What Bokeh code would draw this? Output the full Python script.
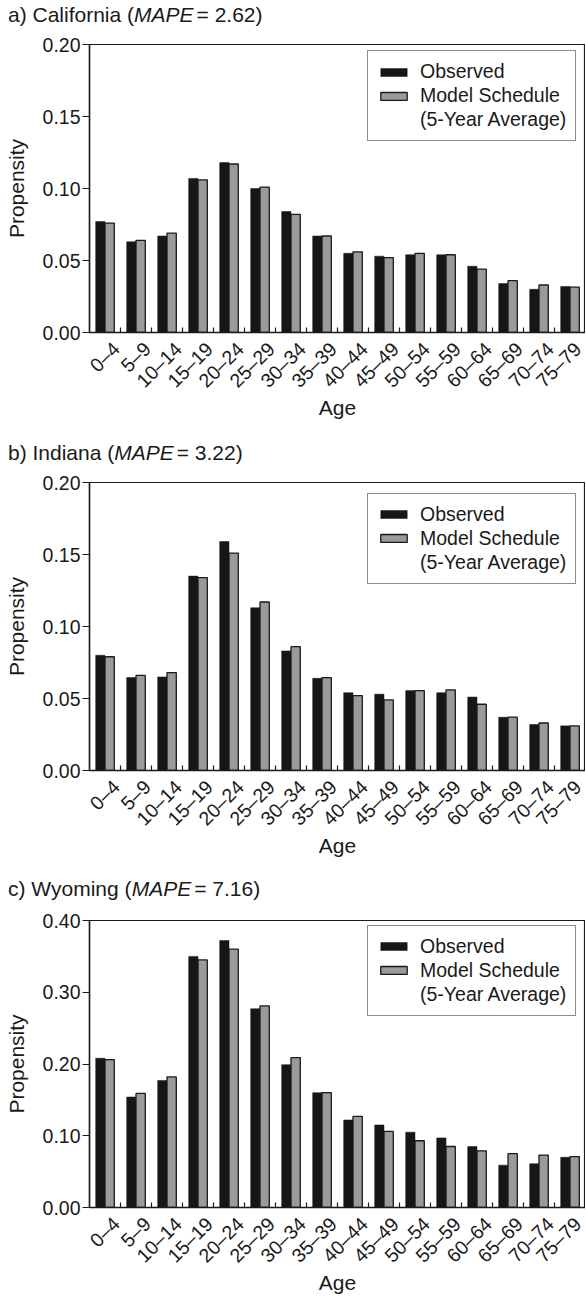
import numpy as np
from math import pi
from bokeh.plotting import figure
from bokeh.models import (ColumnDataSource, Range1d, FixedTicker, PrintfTickFormatter,
                          Label, Legend, LegendItem)
from bokeh.layouts import column
from bokeh.transform import dodge
from bokeh.embed import file_html
from bokeh.resources import INLINE

# ---------------- data ----------------
ages = ["0–4", "5–9", "10–14", "15–19", "20–24", "25–29", "30–34", "35–39",
        "40–44", "45–49", "50–54", "55–59", "60–64", "65–69", "70–74", "75–79"]

ca_observed = [0.077, 0.063, 0.067, 0.107, 0.118, 0.100, 0.084, 0.067,
               0.055, 0.053, 0.054, 0.054, 0.046, 0.034, 0.030, 0.032]
ca_model = [0.076, 0.064, 0.069, 0.106, 0.117, 0.101, 0.082, 0.067,
            0.056, 0.052, 0.055, 0.054, 0.044, 0.036, 0.033, 0.0315]

in_observed = [0.080, 0.0645, 0.065, 0.135, 0.159, 0.113, 0.083, 0.064,
               0.054, 0.053, 0.0555, 0.054, 0.051, 0.037, 0.032, 0.031]
in_model = [0.079, 0.066, 0.068, 0.134, 0.151, 0.117, 0.086, 0.0645,
            0.052, 0.049, 0.0555, 0.056, 0.046, 0.037, 0.033, 0.031]

wy_observed = [0.208, 0.154, 0.177, 0.350, 0.372, 0.277, 0.199, 0.160,
               0.122, 0.115, 0.105, 0.097, 0.085, 0.059, 0.061, 0.070]
wy_model = [0.206, 0.159, 0.182, 0.345, 0.360, 0.281, 0.209, 0.160,
            0.127, 0.106, 0.093, 0.085, 0.079, 0.075, 0.073, 0.071]

yticks_ab = [0.00, 0.05, 0.10, 0.15, 0.20]
yticks_c = [0.00, 0.10, 0.20, 0.30, 0.40]

titles = [("a) California (", "MAPE", "= 2.62)"),
          ("b) Indiana (", "MAPE", "= 3.22)"),
          ("c) Wyoming (", "MAPE", "= 7.16)")]

series_labels = ["Observed", "Model Schedule", "(5-Year Average)"]
x_title = "Age"
y_title = "Propensity"

# ---------------- style ----------------
FONT = "Liberation Sans"
INK = "#1a1a1a"
BLACK_BAR = "#161616"
GREY_BAR = "#9a9a9a"
FIG_W = 585
BORDER_L = 89
FRAME_W = FIG_W - BORDER_L
FRAME_H = 288
STRIP_H = 30
TITLE_SIZE = 21

# Liberation Sans advance widths (1/1000 em), used to chain the title pieces
ADV = {" ": 278, "(": 333, ")": 333, ".": 278, "=": 584, "a": 556, "b": 556, "c": 500,
       "d": 556, "e": 556, "f": 278, "g": 556, "i": 222, "l": 222, "m": 833, "n": 556,
       "o": 556, "r": 333, "y": 500, "A": 667, "C": 722, "E": 667, "I": 278, "M": 833,
       "P": 667, "W": 944}


def text_w(s, size):
    return sum(ADV.get(ch, 556) for ch in s) * size / 1000.0


def no_frame_align(fig):
    try:
        fig.frame_align = False
    except Exception:
        pass


def title_strip(title, center_from_top):
    t = figure(width=FIG_W, height=STRIP_H, x_range=Range1d(0, FIG_W),
               y_range=Range1d(0, STRIP_H), output_backend="svg", toolbar_location=None,
               x_axis_location=None, y_axis_location=None,
               min_border=0, min_border_left=0, min_border_right=0,
               min_border_top=0, min_border_bottom=0)
    no_frame_align(t)
    t.grid.visible = False
    t.outline_line_color = None
    t.background_fill_color = "white"
    t.border_fill_color = "white"
    x0 = 7.5
    gaps = [0, 0, 3]
    for piece, style, gap in zip(title, ["normal", "italic", "normal"], gaps):
        x0 += gap
        t.add_layout(Label(x=x0, y=center_from_top, x_units="canvas", y_units="canvas",
                           text=piece, text_font=FONT,
                           text_font_size=f"{TITLE_SIZE}px", text_font_style=style,
                           text_color=INK, text_align="left", text_baseline="middle"))
        x0 += text_w(piece, TITLE_SIZE)
    return t


def make_panel(obs, mod, ymax, yticks, height, top, legend_top):
    n = len(ages)
    p = figure(width=FIG_W, height=height,
               x_range=Range1d(0, n), y_range=Range1d(0, ymax),
               output_backend="svg", toolbar_location=None,
               min_border_left=BORDER_L, min_border_right=0,
               min_border_top=top, min_border_bottom=height - top - FRAME_H)
    no_frame_align(p)
    p.background_fill_color = "white"
    p.border_fill_color = "white"
    p.outline_line_color = INK
    p.outline_line_width = 1.2
    p.xgrid.visible = False
    p.ygrid.visible = False

    src = ColumnDataSource(dict(x=np.arange(n) + 0.5, obs=obs, mod=mod))
    r_obs = p.vbar(x=dodge("x", -0.15, range=p.x_range), top="obs", width=0.30,
                   source=src, fill_color=BLACK_BAR, line_color=BLACK_BAR, line_width=0.5)
    r_mod = p.vbar(x=dodge("x", 0.15, range=p.x_range), top="mod", width=0.30,
                   source=src, fill_color=GREY_BAR, line_color=INK, line_width=1.3)
    r_dummy = p.vbar(x=[], top=[], width=0.3, fill_alpha=0, line_alpha=0)

    # x axis: labels near category centres, small inward ticks at boundaries
    centers = [i + 0.5 + 0.36 for i in range(n)]
    xa = p.xaxis[0]
    xa.ticker = FixedTicker(ticks=centers, minor_ticks=list(range(1, n + 1)))
    xa.major_label_overrides = {c: lab for c, lab in zip(centers, ages)}
    xa.major_tick_in = 0
    xa.major_tick_out = 0
    xa.minor_tick_in = 5
    xa.minor_tick_out = 0
    xa.minor_tick_line_color = INK
    xa.minor_tick_line_width = 1.2
    xa.major_label_orientation = pi / 4
    xa.major_label_standoff = 13
    xa.major_label_text_font = FONT
    xa.major_label_text_font_size = "19.5px"
    xa.major_label_text_color = INK
    xa.axis_line_color = INK
    xa.axis_line_width = 1.5
    xa.axis_label = x_title
    xa.axis_label_standoff = -6
    xa.axis_label_text_font = FONT
    xa.axis_label_text_font_size = "21px"
    xa.axis_label_text_font_style = "normal"
    xa.axis_label_text_color = INK

    ya = p.yaxis[0]
    ya.ticker = FixedTicker(ticks=yticks)
    ya.formatter = PrintfTickFormatter(format="%.2f")
    ya.major_tick_in = 0
    ya.major_tick_out = 7
    ya.minor_tick_in = 0
    ya.minor_tick_out = 0
    ya.major_tick_line_color = INK
    ya.major_tick_line_width = 1.2
    ya.major_label_standoff = 2
    ya.major_label_text_font = FONT
    ya.major_label_text_font_size = "19.5px"
    ya.major_label_text_color = INK
    ya.axis_line_color = INK
    ya.axis_line_width = 1.5
    ya.axis_label = y_title
    ya.axis_label_standoff = 12
    ya.axis_label_text_font = FONT
    ya.axis_label_text_font_size = "21px"
    ya.axis_label_text_font_style = "normal"
    ya.axis_label_text_color = INK

    legend = Legend(items=[LegendItem(label=series_labels[0], renderers=[r_obs]),
                           LegendItem(label=series_labels[1], renderers=[r_mod]),
                           LegendItem(label=series_labels[2], renderers=[r_dummy])],
                    location=(278, FRAME_H - legend_top - 88))
    legend.label_text_font = FONT
    legend.label_text_font_size = "19.5px"
    legend.label_text_color = INK
    legend.glyph_width = 33
    legend.glyph_height = 10
    legend.label_height = 20
    legend.label_standoff = 10
    legend.spacing = 1
    legend.padding = 9
    legend.margin = 0
    legend.border_line_color = INK
    legend.border_line_width = 1.3
    legend.background_fill_color = "white"
    legend.background_fill_alpha = 1.0
    p.add_layout(legend)
    return p


ta = title_strip(titles[0], 14)
pa = make_panel(ca_observed, ca_model, 0.20, yticks_ab, 408, 14, 9)
tb = title_strip(titles[1], 13.7)
pb = make_panel(in_observed, in_model, 0.20, yticks_ab, 408, 14, 13.7)
tc = title_strip(titles[2], 12.3)
pc = make_panel(wy_observed, wy_model, 0.40, yticks_c, 391, 14, 8.5)

layout = column(ta, pa, tb, pb, tc, pc, spacing=0)
open("out.html", "w").write(file_html(layout, INLINE))
